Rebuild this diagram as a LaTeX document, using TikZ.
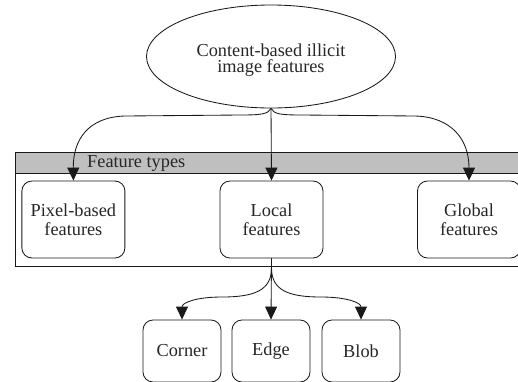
\documentclass[tikz,border=0pt]{standalone}
\usepackage{fontspec}
\setmainfont{Liberation Serif}
\usetikzlibrary{shapes.geometric,arrows.meta}
\begin{document}
\begin{tikzpicture}[x=1pt,y=-1pt,
  line/.style={draw=black!90,line width=0.85pt},
  arr/.style={line,-{Triangle[width=12pt,length=13pt]}},
  txt/.style={inner sep=0pt,align=center,font=\fontsize{18.3}{19}\selectfont,text=black!85},
  box/.style={line,txt,rounded corners=10pt,minimum width=103pt,minimum height=77pt},
  sbox/.style={box,minimum width=78pt,minimum height=62pt},
  ell/.style={line,ellipse,minimum width=249pt,minimum height=103pt,inner sep=0pt}
]
\useasboundingbox (0,0) rectangle (518,381);
% container
\draw[line] (15,152) rectangle (540,266);
\draw[line,fill=black!25] (15,152) rectangle (540,173);
\node[txt,anchor=west] (ft) at (87,163.5) {Feature types};
% nodes
\node[ell] (top) at (271,56.5) {};
\node[txt,font=\fontsize{18.3}{16.5}\selectfont] (toptext) at (271,60) {Content-based illicit\\image features};
\node[box] (pix) at (73.4,219.5) {Pixel-based\\features};
\node[box] (loc) at (271.5,219.5) {Local\\features};
\node[box] (glo) at (469,219.5) {Global\\features};
\node[sbox] (cor) at (182,351) {Corner};
\node[sbox] (edg) at (271,351) {Edge};
\node[sbox] (blo) at (361,351) {Blob};
% top connectors
\draw[arr] (top.south) .. controls (268,114) and (262,115) .. (240,115) -- (125,116)
  .. controls (88,117) and (73,140) .. (pix.north);
\draw[arr] (top.south) -- (loc.north);
\draw[arr] (top.south) .. controls (274,114) and (280,115) .. (302,115) -- (415,116)
  .. controls (452,117) and (469,140) .. (glo.north);
% bottom connectors
\draw[arr] (loc.south) -- (271.5,268) .. controls (271.5,290) and (255,297) .. (222,297)
  .. controls (195,297) and (182,303) .. (cor.north);
\draw[arr] (loc.south) -- (edg.north);
\draw[arr] (loc.south) -- (271.5,268) .. controls (271.5,290) and (288,297) .. (321,297)
  .. controls (348,297) and (361,303) .. (blo.north);
\end{tikzpicture}
\end{document}
